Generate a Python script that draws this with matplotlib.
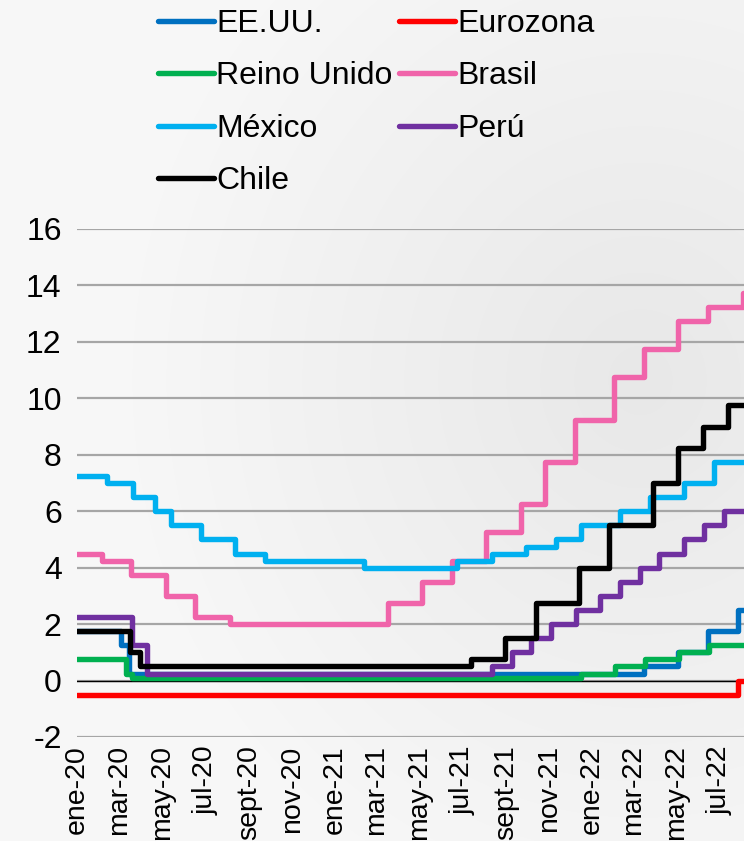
import datetime as dt
import numpy as np
import matplotlib
matplotlib.use("Agg")
import matplotlib.pyplot as plt
import matplotlib.dates as mdates

plt.rcParams['font.family'] = ['Liberation Sans', 'DejaVu Sans']
plt.rcParams['axes.unicode_minus'] = False

D = dt.date

# Policy rates (%), as step series: dates of change and the level from that date on
us_dates = [D(2020, 1, 1), D(2020, 3, 3), D(2020, 3, 15), D(2022, 3, 16), D(2022, 5, 4), D(2022, 6, 15), D(2022, 7, 27)]
us_vals = [1.75, 1.25, 0.25, 0.50, 1.00, 1.75, 2.50]

ez_dates = [D(2020, 1, 1), D(2022, 7, 27)]
ez_vals = [-0.50, 0.00]

uk_dates = [D(2020, 1, 1), D(2020, 3, 11), D(2020, 3, 19), D(2021, 12, 16), D(2022, 2, 3), D(2022, 3, 17), D(2022, 5, 5), D(2022, 6, 16)]
uk_vals = [0.75, 0.25, 0.10, 0.25, 0.50, 0.75, 1.00, 1.25]

br_dates = [D(2020, 1, 1), D(2020, 2, 5), D(2020, 3, 18), D(2020, 5, 6), D(2020, 6, 17), D(2020, 8, 5),
            D(2021, 3, 17), D(2021, 5, 5), D(2021, 6, 16), D(2021, 8, 4), D(2021, 9, 22), D(2021, 10, 27),
            D(2021, 12, 8), D(2022, 2, 2), D(2022, 3, 16), D(2022, 5, 4), D(2022, 6, 15), D(2022, 8, 3)]
br_vals = [4.50, 4.25, 3.75, 3.00, 2.25, 2.00, 2.75, 3.50, 4.25, 5.25, 6.25, 7.75, 9.25, 10.75, 11.75, 12.75, 13.25, 13.75]

mx_dates = [D(2020, 1, 1), D(2020, 2, 13), D(2020, 3, 20), D(2020, 4, 21), D(2020, 5, 14), D(2020, 6, 25),
            D(2020, 8, 13), D(2020, 9, 24), D(2021, 2, 11), D(2021, 6, 24), D(2021, 8, 12), D(2021, 9, 30),
            D(2021, 11, 11), D(2021, 12, 16), D(2022, 2, 10), D(2022, 3, 24), D(2022, 5, 12), D(2022, 6, 23)]
mx_vals = [7.25, 7.00, 6.50, 6.00, 5.50, 5.00, 4.50, 4.25, 4.00, 4.25, 4.50, 4.75, 5.00, 5.50, 6.00, 6.50, 7.00, 7.75]

pe_dates = [D(2020, 1, 1), D(2020, 3, 19), D(2020, 4, 9), D(2021, 8, 12), D(2021, 9, 9), D(2021, 10, 7),
            D(2021, 11, 4), D(2021, 12, 9), D(2022, 1, 13), D(2022, 2, 10), D(2022, 3, 10), D(2022, 4, 7),
            D(2022, 5, 12), D(2022, 6, 9), D(2022, 7, 7)]
pe_vals = [2.25, 1.25, 0.25, 0.50, 1.00, 1.50, 2.00, 2.50, 3.00, 3.50, 4.00, 4.50, 5.00, 5.50, 6.00]

cl_dates = [D(2020, 1, 1), D(2020, 3, 16), D(2020, 3, 31), D(2021, 7, 14), D(2021, 8, 31), D(2021, 10, 13),
            D(2021, 12, 14), D(2022, 1, 26), D(2022, 3, 29), D(2022, 5, 4), D(2022, 6, 8), D(2022, 7, 13)]
cl_vals = [1.75, 1.00, 0.50, 0.75, 1.50, 2.75, 4.00, 5.50, 7.00, 8.25, 9.00, 9.75]

tick_dates = [D(2020, 1, 1), D(2020, 3, 1), D(2020, 5, 1), D(2020, 7, 1), D(2020, 9, 1), D(2020, 11, 1),
              D(2021, 1, 1), D(2021, 3, 1), D(2021, 5, 1), D(2021, 7, 1), D(2021, 9, 1), D(2021, 11, 1),
              D(2022, 1, 1), D(2022, 3, 1), D(2022, 5, 1), D(2022, 7, 1)]
tick_labels = ["ene-20", "mar-20", "may-20", "jul-20", "sept-20", "nov-20",
               "ene-21", "mar-21", "may-21", "jul-21", "sept-21", "nov-21",
               "ene-22", "mar-22", "may-22", "jul-22"]

x_start = D(2020, 1, 1)
x_end = D(2022, 8, 5)

series = [
    ("EE.UU.", us_dates, us_vals, "#0070C0"),
    ("Eurozona", ez_dates, ez_vals, "#FF0000"),
    ("Reino Unido", uk_dates, uk_vals, "#00B050"),
    ("Brasil", br_dates, br_vals, "#F064AA"),
    ("México", mx_dates, mx_vals, "#00B0F0"),
    ("Perú", pe_dates, pe_vals, "#7030A0"),
    ("Chile", cl_dates, cl_vals, "#000000"),
]

FS = 23
FS_X = 20.5
W, H = 744, 841
fig = plt.figure(figsize=(W / 100, H / 100), dpi=100)

# soft grey backdrop
bg = fig.add_axes([0, 0, 1, 1], zorder=-10)
yy, xx = np.mgrid[0:H, 0:W]
r = np.sqrt(((xx - 640) / 520.0) ** 2 + ((yy - 380) / 560.0) ** 2)
shade = 0.91 + 0.06 * np.clip(r, 0, 1)
bg.imshow(np.dstack([shade, shade, shade]), aspect='auto', extent=[0, 1, 0, 1])
bg.axis('off')

ax = fig.add_axes([77 / W, 1 - 737 / H, 1 - 77 / W, (737 - 229) / H])
ax.patch.set_alpha(0)

handles = {}
for name, dts, vals, col in series:
    xs = list(dts) + [x_end]
    ys = list(vals) + [vals[-1]]
    ln, = ax.plot(xs, ys, drawstyle='steps-post', color=col, lw=3.9,
                  solid_joinstyle='round', solid_capstyle='round', zorder=3, label=name)
    handles[name] = ln

ax.set_ylim(-2, 16)
ax.set_yticks(np.arange(-2, 17, 2))
ax.set_xlim(x_start, x_end)
ax.yaxis.grid(True, color='#A6A6A6', lw=1.6)
ax.set_axisbelow(True)
ax.axhline(0, color='black', lw=1.0, zorder=2)
for s in ax.spines.values():
    s.set_visible(False)

ax.set_xticks([mdates.date2num(d) for d in tick_dates])
ax.set_xticklabels(tick_labels, rotation=90, ha='center', va='top')
ax.tick_params(axis='both', length=0, colors='black')
ax.tick_params(axis='x', pad=6, labelsize=FS_X)
ax.tick_params(axis='y', pad=11, labelsize=FS)

order = ["EE.UU.", "Reino Unido", "México", "Chile", "Eurozona", "Brasil", "Perú"]
leg = fig.legend([handles[n] for n in order], order, ncol=2, loc='upper left',
                 bbox_to_anchor=(158 / W, 1 - 9 / H), frameon=False, fontsize=FS,
                 handlelength=1.75, handletextpad=0.08, columnspacing=0.2,
                 labelspacing=0.7, borderpad=0, borderaxespad=0)

fig.savefig("out.png", dpi=100)
